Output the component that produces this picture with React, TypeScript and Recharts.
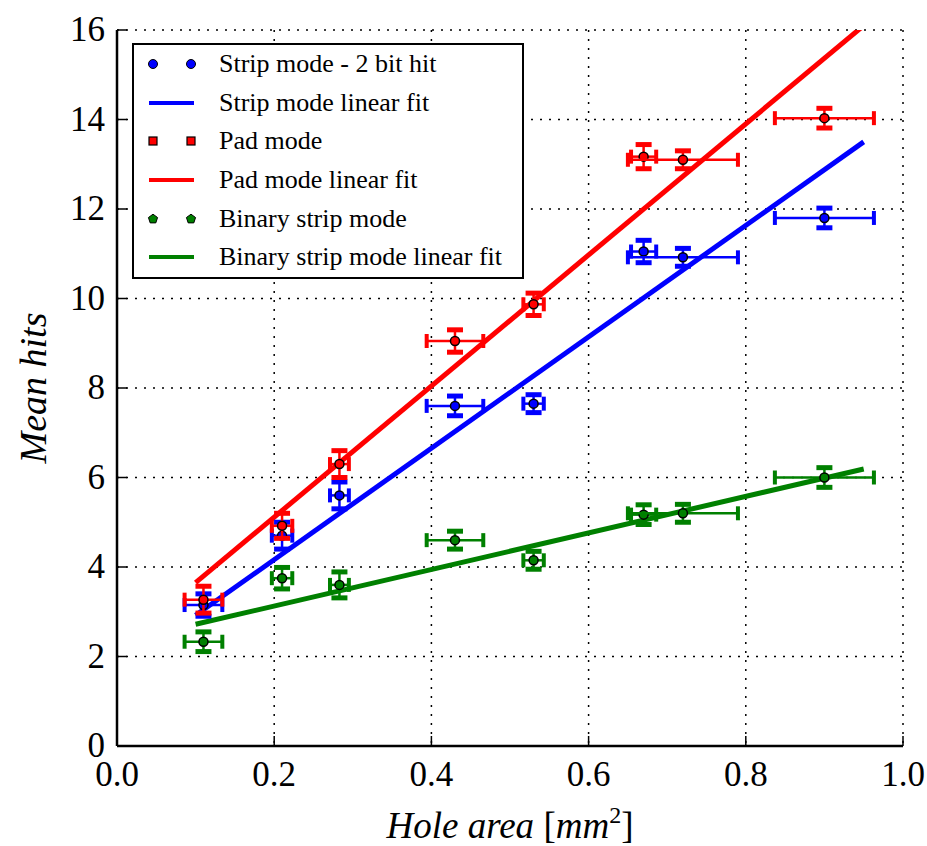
import React from 'react';
import {
  ComposedChart,
  Scatter,
  Line,
  XAxis,
  YAxis,
  CartesianGrid,
  Legend,
} from 'recharts';

// hole areas (mm^2) and their horizontal uncertainties
const holeArea = [0.11, 0.21, 0.283, 0.43, 0.53, 0.67, 0.72, 0.9];
const holeAreaErr = [0.024, 0.013, 0.012, 0.036, 0.013, 0.016, 0.07, 0.063];

const stripHits = [3.15, 4.7, 5.6, 7.6, 7.65, 11.05, 10.92, 11.8];
const stripErr = [0.25, 0.3, 0.3, 0.22, 0.2, 0.25, 0.2, 0.22];
const padHits = [3.27, 4.92, 6.3, 9.05, 9.87, 13.17, 13.1, 14.03];
const padErr = [0.3, 0.28, 0.3, 0.25, 0.25, 0.27, 0.2, 0.22];
const binaryHits = [2.33, 3.75, 3.6, 4.6, 4.15, 5.17, 5.2, 6.0];
const binaryErr = [0.22, 0.24, 0.29, 0.2, 0.2, 0.22, 0.2, 0.22];

// linear fits, end points
const fitArea = [0.1, 0.95];
const stripFit = [2.92, 13.5];
const padFit = [3.65, 16.1];
const binaryFit = [2.72, 6.19];

const xTicks = [0, 0.2, 0.4, 0.6, 0.8, 1.0];
const yTicks = [0, 2, 4, 6, 8, 10, 12, 14, 16];

const BLUE = '#0000ff';
const RED = '#ff0000';
const GREEN = '#008000';
const FONT = "'Liberation Serif', 'Times New Roman', serif";

// plot geometry, used to turn error sizes into pixels
const W = 927;
const H = 846;
const M = { top: 30, right: 24, left: 0, bottom: 0 };
const Y_AXIS_W = 117;
const X_AXIS_H = 100;
const PLOT_W = W - M.left - M.right - Y_AXIS_W;
const PLOT_H = H - M.top - M.bottom - X_AXIS_H;
const PX_X = PLOT_W / 1.0;
const PX_Y = PLOT_H / 16;

const points = (ys: number[], errs: number[]) =>
  holeArea.map((x, i) => ({ x, y: ys[i], ex: holeAreaErr[i], ey: errs[i] }));
const fit = (ys: number[]) => fitArea.map((x, i) => ({ x, y: ys[i] }));

const makeMarker = (color: string) => (props: any) => {
  const { cx, cy, payload } = props;
  if (cx == null || cy == null) return null;
  const dx = payload.ex * PX_X;
  const dy = payload.ey * PX_Y;
  return (
    <g>
      <line x1={cx - dx} y1={cy} x2={cx + dx} y2={cy} stroke={color} strokeWidth={2.5} />
      <line x1={cx - dx} y1={cy - 7} x2={cx - dx} y2={cy + 7} stroke={color} strokeWidth={4} />
      <line x1={cx + dx} y1={cy - 7} x2={cx + dx} y2={cy + 7} stroke={color} strokeWidth={4} />
      <line x1={cx} y1={cy - dy} x2={cx} y2={cy + dy} stroke={color} strokeWidth={2.5} />
      <line x1={cx - 8} y1={cy - dy} x2={cx + 8} y2={cy - dy} stroke={color} strokeWidth={5} />
      <line x1={cx - 8} y1={cy + dy} x2={cx + 8} y2={cy + dy} stroke={color} strokeWidth={5} />
      <circle cx={cx} cy={cy} r={4.5} fill={color} stroke="#000" strokeWidth={1.5} />
    </g>
  );
};

const BottomTick = (props: any) => {
  const { x, y, payload } = props;
  return (
    <g>
      <line x1={x} y1={y - 12} x2={x} y2={y - 22} stroke="#000" strokeWidth={1.5} />
      <text x={x} y={y + 28} textAnchor="middle" fontSize={35} fontFamily={FONT} fill="#000">
        {payload.value.toFixed(1)}
      </text>
    </g>
  );
};

const LeftTick = (props: any) => {
  const { x, y, payload } = props;
  return (
    <g>
      <line x1={x + 12} y1={y} x2={x + 22} y2={y} stroke="#000" strokeWidth={1.5} />
      <text x={x} y={y + 11} textAnchor="end" fontSize={35} fontFamily={FONT} fill="#000">
        {payload.value}
      </text>
    </g>
  );
};

const TopTick = (props: any) => (
  <line x1={props.x} y1={props.y} x2={props.x} y2={props.y + 10} stroke="#000" strokeWidth={1.5} />
);

const RightTick = (props: any) => (
  <line x1={props.x} y1={props.y} x2={props.x - 10} y2={props.y} stroke="#000" strokeWidth={1.5} />
);

const XTitle = (props: any) => {
  const vb = props.viewBox;
  return (
    <text
      x={vb.x + vb.width / 2}
      y={vb.y + 92}
      textAnchor="middle"
      fontSize={37}
      fontStyle="italic"
      fontFamily={FONT}
      fill="#000"
    >
      Hole area <tspan fontStyle="normal">[</tspan>mm
      <tspan dy={-15} fontSize={24} fontStyle="normal">2</tspan>
      <tspan dy={15} fontStyle="normal">]</tspan>
    </text>
  );
};

const YTitle = (props: any) => {
  const vb = props.viewBox;
  const cy = vb.y + vb.height / 2;
  return (
    <text
      x={37}
      y={cy}
      transform={`rotate(-90, 37, ${cy})`}
      textAnchor="middle"
      dominantBaseline="middle"
      fontSize={38}
      fontStyle="italic"
      fontFamily={FONT}
      fill="#000"
    >
      Mean hits
    </text>
  );
};

const legendRows = [
  { label: 'Strip mode - 2 bit hit', color: BLUE, kind: 'circle' },
  { label: 'Strip mode linear fit', color: BLUE, kind: 'line' },
  { label: 'Pad mode', color: RED, kind: 'square' },
  { label: 'Pad mode linear fit', color: RED, kind: 'line' },
  { label: 'Binary strip mode', color: GREEN, kind: 'pentagon' },
  { label: 'Binary strip mode linear fit', color: GREEN, kind: 'line' },
];

const LegendIcon = ({ color, kind }: { color: string; kind: string }) => {
  const mark = (cx: number) => {
    if (kind === 'circle') return <circle cx={cx} cy={10} r={4.5} fill={color} stroke="#000" strokeWidth={1} />;
    if (kind === 'square') return <rect x={cx - 4} y={6} width={8} height={8} fill={color} stroke="#000" strokeWidth={1.2} />;
    const pts = [0, 1, 2, 3, 4]
      .map((k) => {
        const a = -Math.PI / 2 + (k * 2 * Math.PI) / 5;
        return `${cx + 4.8 * Math.cos(a)},${10 + 4.8 * Math.sin(a)}`;
      })
      .join(' ');
    return <polygon points={pts} fill={color} stroke="#000" strokeWidth={1} />;
  };
  return (
    <svg width={70} height={20} style={{ display: 'block' }}>
      {kind === 'line' ? (
        <line x1={15} y1={10} x2={60} y2={10} stroke={color} strokeWidth={4} />
      ) : (
        <>
          {mark(19)}
          {mark(57)}
        </>
      )}
    </svg>
  );
};

const LegendBox = () => (
  <div
    style={{
      width: 388,
      height: 232,
      border: '2px solid #000',
      background: '#fff',
      fontFamily: FONT,
      fontSize: 26,
      color: '#000',
    }}
  >
    {legendRows.map((r) => (
      <div key={r.label} style={{ display: 'flex', alignItems: 'center', height: 38.6 }}>
        <LegendIcon color={r.color} kind={r.kind} />
        <span style={{ marginLeft: 15, whiteSpace: 'nowrap' }}>{r.label}</span>
      </div>
    ))}
  </div>
);

export default function App() {
  return (
    <div style={{ position: 'absolute', left: 0, top: 0, width: W, height: H, background: '#fff' }}>
      <ComposedChart width={W} height={H} margin={M}>
        <CartesianGrid stroke="#000" strokeWidth={1.5} strokeDasharray="2 7" />
        <XAxis
          dataKey="x"
          type="number"
          domain={[0, 1]}
          ticks={xTicks}
          height={X_AXIS_H}
          axisLine={{ stroke: '#000', strokeWidth: 2.5 }}
          tickLine={false}
          tickSize={0}
          tickMargin={12}
          tick={<BottomTick />}
          label={<XTitle />}
        />
        <XAxis
          xAxisId="top"
          orientation="top"
          type="number"
          domain={[0, 1]}
          ticks={xTicks}
          height={0}
          axisLine={{ stroke: '#000', strokeWidth: 2.5 }}
          tickLine={false}
          tickSize={0}
          tickMargin={0}
          tick={<TopTick />}
        />
        <YAxis
          dataKey="y"
          type="number"
          domain={[0, 16]}
          ticks={yTicks}
          allowDataOverflow
          width={Y_AXIS_W}
          axisLine={{ stroke: '#000', strokeWidth: 2.5 }}
          tickLine={false}
          tickSize={0}
          tickMargin={12}
          tick={<LeftTick />}
          label={<YTitle />}
        />
        <YAxis
          yAxisId="right"
          orientation="right"
          type="number"
          domain={[0, 16]}
          ticks={yTicks}
          width={0}
          axisLine={{ stroke: '#000', strokeWidth: 2.5 }}
          tickLine={false}
          tickSize={0}
          tickMargin={0}
          tick={<RightTick />}
        />
        <Legend
          layout="vertical"
          align="center"
          verticalAlign="middle"
          wrapperStyle={{ top: 43, left: 132, width: 392 }}
          content={<LegendBox />}
        />
        <Scatter data={points(stripHits, stripErr)} dataKey="y" fill={BLUE} shape={makeMarker(BLUE)} isAnimationActive={false} />
        <Line data={fit(stripFit)} dataKey="y" stroke={BLUE} strokeWidth={5} dot={false} activeDot={false} isAnimationActive={false} />
        <Scatter data={points(padHits, padErr)} dataKey="y" fill={RED} shape={makeMarker(RED)} isAnimationActive={false} />
        <Line data={fit(padFit)} dataKey="y" stroke={RED} strokeWidth={5} dot={false} activeDot={false} isAnimationActive={false} />
        <Scatter data={points(binaryHits, binaryErr)} dataKey="y" fill={GREEN} shape={makeMarker(GREEN)} isAnimationActive={false} />
        <Line data={fit(binaryFit)} dataKey="y" stroke={GREEN} strokeWidth={5} dot={false} activeDot={false} isAnimationActive={false} />
      </ComposedChart>
    </div>
  );
}
